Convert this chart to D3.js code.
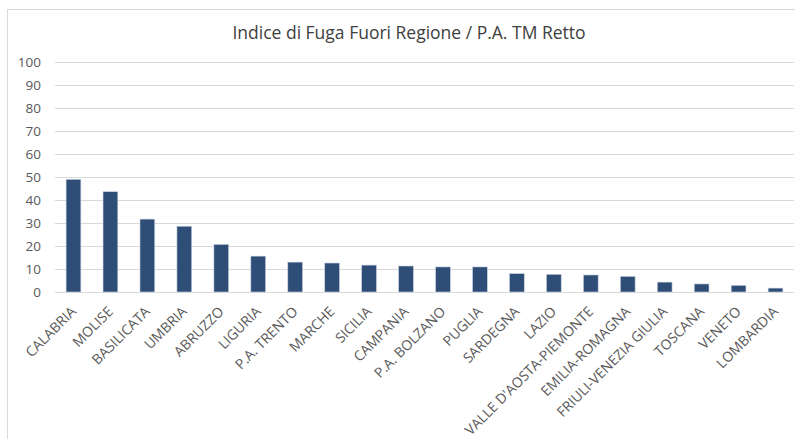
<html><head>
<title>Indice di Fuga Fuori Regione</title>
<style>
  body, html { margin: 0; padding: 0; background: #fff; }
  svg { display: block; font-family: 'Open Sans', Arial, sans-serif; }
</style>
<script src="https://d3js.org/d3.v7.min.js"></script>
</head>
<body>
<div id="chart"></div>
<script>
const regions = ["CALABRIA", "MOLISE", "BASILICATA", "UMBRIA", "ABRUZZO", "LIGURIA",
  "P.A. TRENTO", "MARCHE", "SICILIA", "CAMPANIA", "P.A. BOLZANO", "PUGLIA",
  "SARDEGNA", "LAZIO", "VALLE D'AOSTA-PIEMONTE", "EMILIA-ROMAGNA",
  "FRIULI-VENEZIA GIULIA", "TOSCANA", "VENETO", "LOMBARDIA"];
const values = [49.0, 43.6, 31.7, 28.6, 20.7, 15.6, 13.0, 12.6, 11.7, 11.3, 10.9, 10.9,
  8.0, 7.7, 7.4, 6.8, 4.3, 3.5, 2.9, 1.7];
const yTicks = [0, 10, 20, 30, 40, 50, 60, 70, 80, 90, 100];
const title = "Indice di Fuga Fuori Regione / P.A. TM Retto";

const width = 795, height = 439;
const margin = {top: 62, right: 1, bottom: 147, left: 55};

const svg = d3.select("#chart").append("svg")
  .attr("width", width)
  .attr("height", height);

// chart area frame (right and bottom edges fall outside the picture)
svg.append("rect")
  .attr("x", 7.5).attr("y", 9.5)
  .attr("width", 800).attr("height", 450)
  .attr("fill", "none")
  .attr("stroke", "#d9d9d9");

svg.append("text")
  .attr("x", 409).attr("y", 39)
  .attr("text-anchor", "middle")
  .attr("font-size", 17.5)
  .attr("fill", "#404040")
  .text(title);

const x = d3.scaleBand()
  .domain(regions)
  .range([margin.left, width - margin.right])
  .paddingInner(0.6)
  .paddingOuter(0.3);

const y = d3.scaleLinear()
  .domain([0, 100])
  .range([height - margin.bottom, margin.top]);

// gridlines
svg.append("g")
  .selectAll("line")
  .data(yTicks)
  .join("line")
  .attr("x1", margin.left).attr("x2", width - margin.right)
  .attr("y1", d => Math.round(y(d)) + 0.5).attr("y2", d => Math.round(y(d)) + 0.5)
  .attr("stroke", "#d9d9d9")
  .attr("stroke-width", 1);

// y labels
const yAxis = svg.append("g")
  .attr("transform", `translate(${margin.left},0)`)
  .call(d3.axisLeft(y).tickValues(yTicks).tickSize(0).tickPadding(14));
yAxis.select(".domain").remove();
yAxis.selectAll("text")
  .attr("font-family", "'Open Sans', Arial, sans-serif")
  .attr("font-size", 13.5)
  .attr("fill", "#595959");

// bars
svg.append("g")
  .selectAll("rect")
  .data(values)
  .join("rect")
  .attr("x", (d, i) => x(regions[i]))
  .attr("y", d => y(d))
  .attr("width", x.bandwidth())
  .attr("height", d => y(0) - y(d))
  .attr("fill", "#2e4e77")
  .attr("stroke", "#c9d3e0")
  .attr("stroke-width", 0.6);

// x labels
const xAxis = svg.append("g")
  .attr("transform", `translate(0,${y(0)})`)
  .call(d3.axisBottom(x).tickSize(0).tickPadding(0));
xAxis.select(".domain").remove();
xAxis.selectAll("text")
  .attr("font-family", "'Open Sans', Arial, sans-serif")
  .attr("font-size", 14)
  .attr("fill", "#595959")
  .attr("text-anchor", "end")
  .attr("dy", "0.35em")
  .attr("transform", "translate(0,17) rotate(-45)");
</script>
</body></html>
